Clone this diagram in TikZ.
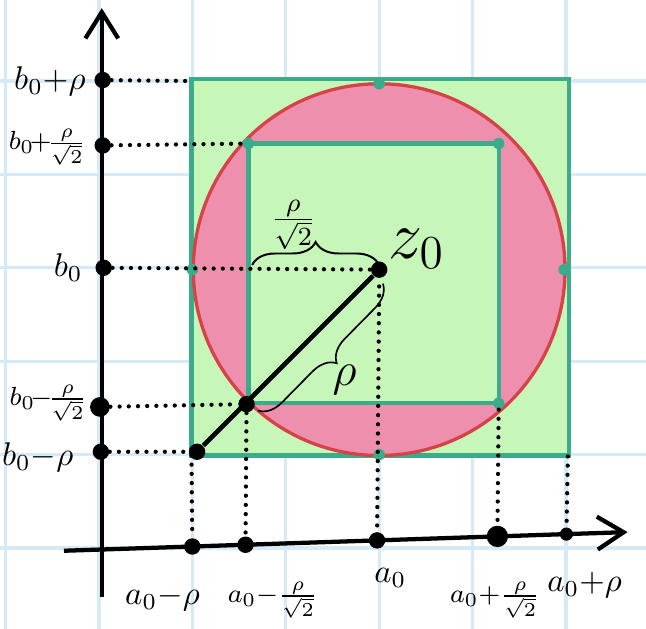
\documentclass[tikz,border=0pt]{standalone}
\usepackage{amsmath}
\usetikzlibrary{arrows.meta,calc,decorations.pathreplacing}
\definecolor{gridblue}{RGB}{214,233,247}
\definecolor{sqfill}{RGB}{198,246,184}
\definecolor{sqline}{RGB}{58,172,140}
\definecolor{discfill}{RGB}{238,143,174}
\definecolor{discline}{RGB}{214,66,72}
\begin{document}
\begin{tikzpicture}[
    gridline/.style={draw=gridblue, line width=1pt},
    axis/.style={line width=1.3pt, -{Straight Barb[length=8pt,width=10pt]}},
    guide/.style={line width=1.3pt, dash pattern=on 0pt off 2.8pt, line cap=round},
    dot/.style={circle, fill=black, inner sep=0pt, minimum size=5pt},
    tdot/.style={circle, fill=sqline, inner sep=0pt, minimum size=3.5pt},
    sqbox/.style={fill=sqfill, draw=sqline, line width=1.3pt},
    disc/.style={fill=discfill, draw=discline, line width=1pt},
    lab/.style={font=\normalsize, inner sep=0.5pt},
    fraclab/.style={lab, font=\footnotesize},
    ylab/.style={anchor=east}
]
\useasboundingbox (-1.06,-0.867) rectangle (5.857,5.867);

% === GRIGLIA ===
\draw[gridline] (-1.06,-0.867) grid (5.857,5.867);

% Punti principali
\coordinate (z0) at (3.0,2.98);
\coordinate (sqA) at (0.99,0.99);
\coordinate (sqB) at (5.03,5.02);
\coordinate (inA) at (1.6,1.55);
\coordinate (inB) at (4.28,4.33);
\coordinate (pstart) at (1.05,1.03);

% Quadrato esterno, disco, quadrato interno
\draw[sqbox] (sqA) rectangle (sqB);
\draw[disc] (z0) circle (1.99);
\draw[sqbox] (inA) rectangle (inB);

% Punti verdi
\node[tdot] (t1) at (3.0,4.97) {};
\node[tdot] (t2) at (1.0,2.98) {};
\node[tdot] (t3) at (4.98,2.98) {};
\node[tdot] (t4) at (3.0,1.0) {};
\node[tdot] (t5) at (1.6,4.33) {};
\node[tdot] (t6) at (4.28,4.33) {};
\node[tdot] (t7) at (4.28,1.55) {};

% === ASSI ===
\coordinate (xs) at (-0.375,-0.03);
\coordinate (xe) at (5.66,0.17);
\coordinate (ys) at (0.03,-0.52);
\coordinate (ye) at (0.03,5.78);

% Punti sull'asse y
\node[dot] (yb1) at (0.04,5.01) {};
\node[dot] (yb2) at (0.04,4.31) {};
\node[dot] (yb3) at (0.05,3.0) {};
\node[dot, minimum size=6pt] (yb4) at (0.01,1.51) {};
\node[dot] (yb5) at (0.02,1.03) {};

% Punti sull'asse x
\node[dot] (xa1) at ($(xs)!(1.0,0)!(xe)$) {};
\node[dot] (xa2) at ($(xs)!(1.57,0)!(xe)$) {};
\node[dot] (xa3) at ($(xs)!(2.98,0)!(xe)$) {};
\node[dot, minimum size=6.5pt] (xa4) at ($(xs)!(4.27,0)!(xe)$) {};
\node[dot, minimum size=4pt] (xa5) at ($(xs)!(5.01,0)!(xe)$) {};

% Centro e raggio
\node[dot] (zc) at (z0) {};
\node[dot] (corner) at (1.58,1.54) {};
\node[dot] (ps) at (pstart) {};

% === LINEE TRATTEGGIATE ===
\draw[guide] (yb1) -- (0.97,5.0);
\draw[guide] (yb2) -- (t5);
\draw[guide] (yb3) -- (zc);
\draw[guide] (yb4) -- (corner);
\draw[guide] (yb5) -- (ps);

\draw[guide] (sqA) -- (xa1);
\draw[guide] (corner) -- (xa2);
\draw[guide] (3.0,2.8) -- (xa3);
\draw[guide] (t7) -- (xa4);
\draw[guide] (5.02,0.98) -- (xa5);

% Assi
\draw[axis] (xs) -- (xe);
\draw[axis] (ys) -- (ye);

% Raggio
\draw[line width=1.4pt] (ps) -- (zc);

% Graffe
\draw[decorate, decoration={brace, amplitude=7pt}, line width=0.6pt] (1.64,3.03) -- (3.0,3.03);
\draw[decorate, decoration={brace, amplitude=7pt}, line width=0.5pt] (3.04,2.83) -- (1.70,1.47);

% === ETICHETTE ===
\node[lab, font=\huge] (lz) at (3.4,3.2) {$z_0$};
\node[lab, font=\large] (lrs) at (2.08,3.46) {$\frac{\rho}{\sqrt{2}}$};
\node[lab, font=\Large] (lr) at (2.63,1.8) {$\rho$};

\node[lab, ylab] (lb1) at (-0.12,5.0) {$b_0{+}\rho$};
\node[fraclab, ylab] (lb2) at (-0.11,4.29) {$b_0\!{+}\!\frac{\rho}{\sqrt{2}}$};
\node[lab, ylab] (lb3) at (-0.15,3.0) {$b_0$};
\node[fraclab, ylab] (lb4) at (-0.1,1.55) {$b_0\!{-}\!\frac{\rho}{\sqrt{2}}$};
\node[lab, ylab] (lb5) at (-0.25,0.97) {$b_0{-}\rho$};

\node[lab] (la1) at (0.68,-0.54) {$a_0{-}\rho$};
\node[fraclab] (la2) at (1.86,-0.56) {$a_0{-}\frac{\rho}{\sqrt{2}}$};
\node[lab] (la3) at (3.12,-0.32) {$a_0$};
\node[fraclab] (la4) at (4.24,-0.56) {$a_0{+}\frac{\rho}{\sqrt{2}}$};
\node[lab] (la5) at (5.2,-0.40) {$a_0{+}\rho$};

\end{tikzpicture}
\end{document}
